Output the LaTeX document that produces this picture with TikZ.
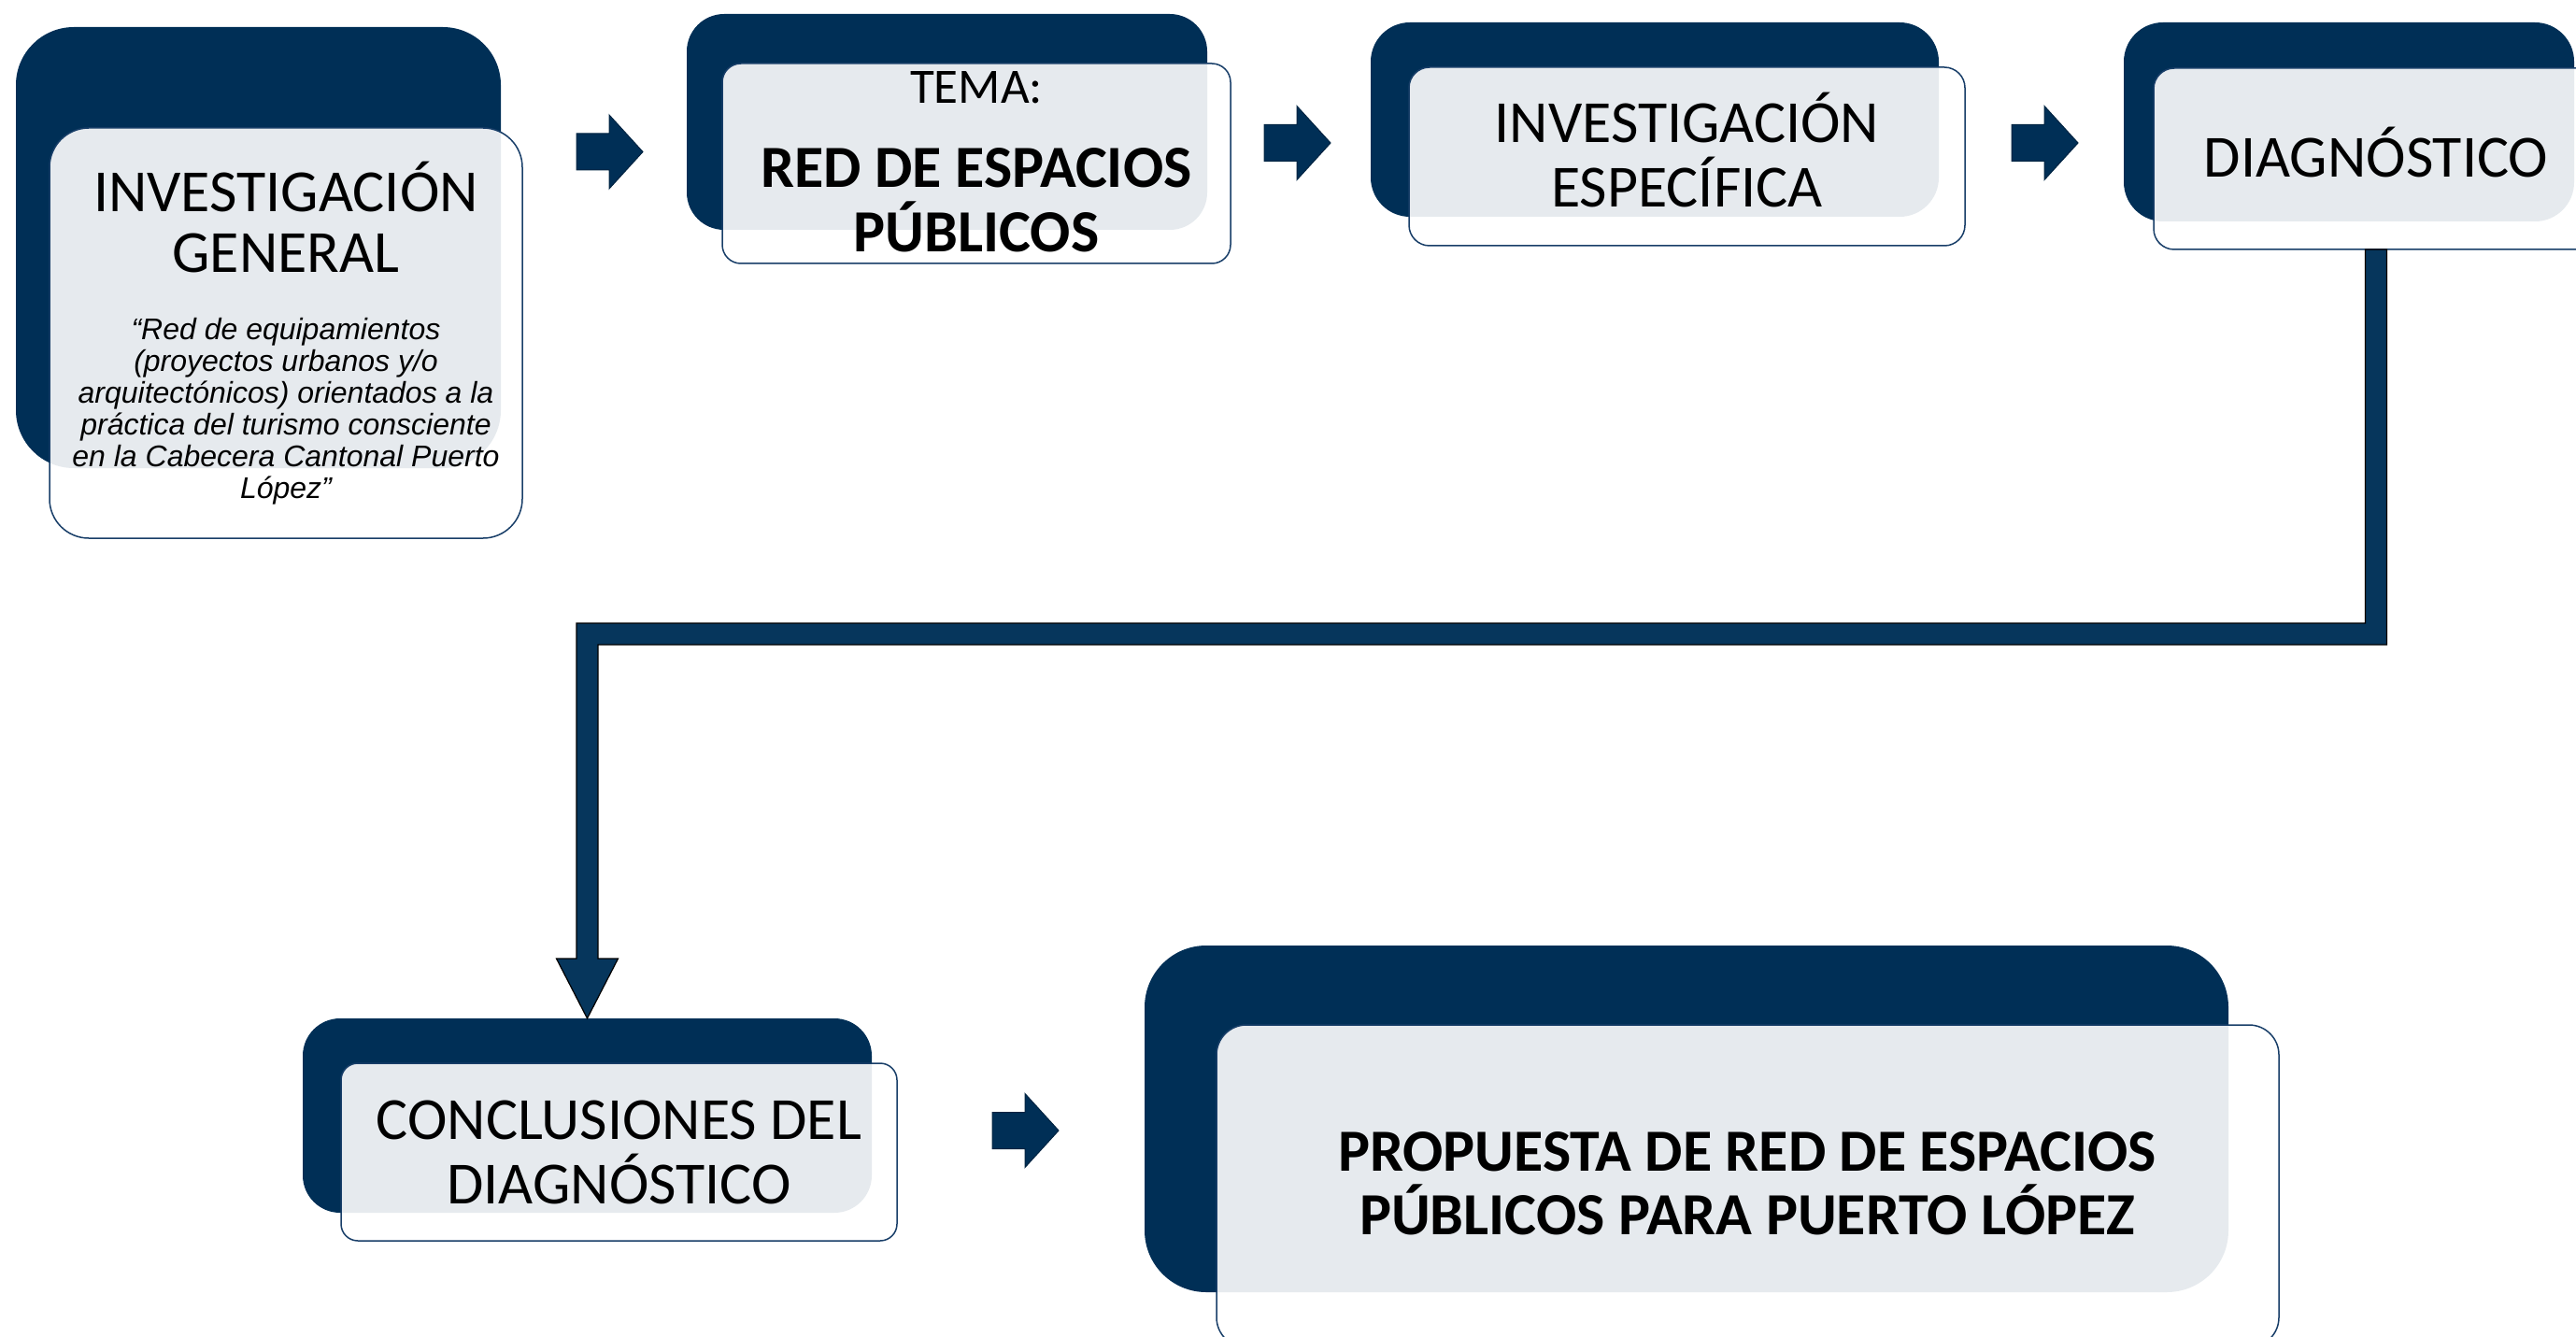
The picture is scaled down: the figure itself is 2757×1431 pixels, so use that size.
\documentclass[tikz,border=0pt]{standalone}
\usepackage{fontspec}
\setmainfont{Carlito}
\newfontfamily\arialfont{Liberation Sans}
\usetikzlibrary{calc}
\definecolor{navy}{RGB}{0,47,86}
\definecolor{navyedge}{RGB}{0,36,66}
\definecolor{navyline}{RGB}{24,62,104}
\definecolor{conn}{RGB}{6,54,92}
\tikzset{
  darkbox/.style={fill=navy, draw=none, inner sep=0pt, outer sep=0pt},
  lightbox/.style={fill=white, fill opacity=0.9, draw=navyline, draw opacity=1, line width=1.5pt, inner sep=0pt, outer sep=0pt},
  bigtxt/.style={anchor=base, inner sep=0pt, font=\fontsize{64}{70}\selectfont},
  bigbold/.style={anchor=base, inner sep=0pt, font=\fontsize{64}{70}\selectfont\bfseries},
  smalltxt/.style={anchor=base, inner sep=0pt, font=\fontsize{53}{60}\selectfont},
  quotetxt/.style={anchor=base, inner sep=0pt, font=\arialfont\itshape\fontsize{32}{34}\selectfont},
  blockarr/.pic={\filldraw[fill=navy, draw=navyedge, line width=1pt] (0,-19.5) -- (35,-19.5) -- (35,-39.5) -- (71,0) -- (35,39.5) -- (35,19.5) -- (0,19.5) -- cycle;}
}
\begin{document}
\begin{tikzpicture}[x=1pt,y=-1pt]
\useasboundingbox (0,0) rectangle (2757,1431);
\clip (0,0) rectangle (2757,1431);
% dark boxes
\node[darkbox, minimum width=519pt, minimum height=472pt, rounded corners=62pt] (d1) at (276.5,265) {};
\node[darkbox, minimum width=557pt, minimum height=231pt, rounded corners=40pt] (d2) at (1013.5,130.5) {};
\node[darkbox, minimum width=608pt, minimum height=208pt, rounded corners=42pt] (d3) at (1771,128) {};
\node[darkbox, minimum width=482pt, minimum height=213pt, rounded corners=42pt] (d4) at (2514,130.5) {};
\node[darkbox, minimum width=609pt, minimum height=208pt, rounded corners=40pt] (d5) at (628.5,1194) {};
\node[darkbox, minimum width=1160pt, minimum height=371pt, rounded corners=66pt] (d6) at (1805,1197.5) {};
% light boxes
\node[lightbox, minimum width=506pt, minimum height=439pt, rounded corners=42pt] (l1) at (306,356.5) {};
\node[lightbox, minimum width=544pt, minimum height=214pt, rounded corners=20pt] (l2) at (1045,175) {};
\node[lightbox, minimum width=595pt, minimum height=191pt, rounded corners=22pt] (l3) at (1805.5,167.5) {};
\node[lightbox, minimum width=476pt, minimum height=194pt, rounded corners=22pt] (l4) at (2543,170) {};
\node[lightbox, minimum width=595pt, minimum height=190pt, rounded corners=18pt] (l5) at (662.5,1233) {};
\node[lightbox, minimum width=1137pt, minimum height=345pt, rounded corners=32pt] (l6) at (1870.5,1269.5) {};
% texts box 1
\node[bigtxt] (t1a) at (306,227) {INVESTIGACIÓN};
\node[bigtxt] (t1b) at (306,292) {GENERAL};
\node[quotetxt] (q1) at (306,363) {“Red de equipamientos};
\node[quotetxt] (q2) at (306,397) {(proyectos urbanos y/o};
\node[quotetxt] (q3) at (306,431) {arquitectónicos) orientados a la};
\node[quotetxt] (q4) at (306,465) {práctica del turismo consciente};
\node[quotetxt] (q5) at (306,499) {en la Cabecera Cantonal Puerto};
\node[quotetxt] (q6) at (306,533) {López”};
% box 2
\node[smalltxt] (t2a) at (1045,111) {TEMA:};
\node[bigbold] (t2b) at (1045,201) {RED DE ESPACIOS};
\node[bigbold] (t2c) at (1045,270) {PÚBLICOS};
% box 3
\node[bigtxt] (t3a) at (1805.5,153) {INVESTIGACIÓN};
\node[bigtxt] (t3b) at (1805.5,222) {ESPECÍFICA};
% box 4
\node[bigtxt] (t4a) at (2543,190) {DIAGNÓSTICO};
% box 5
\node[bigtxt] (t5a) at (662.5,1219) {CONCLUSIONES DEL};
\node[bigtxt] (t5b) at (662.5,1288) {DIAGNÓSTICO};
% box 6
\node[bigbold] (t6a) at (1870,1253) {PROPUESTA DE RED DE ESPACIOS};
\node[bigbold] (t6b) at (1870,1321) {PÚBLICOS PARA PUERTO LÓPEZ};
% block arrows
\pic at (617,162.5) {blockarr};
\pic at (1353,153) {blockarr};
\pic at (2153,153) {blockarr};
\pic at (1062,1210) {blockarr};
% elbow connector
\coordinate (k1) at (l4.south |- 0,678.5);
\coordinate (k2) at (d5.north |- 0,678.5);
\filldraw[fill=conn, draw=black, line width=1.2pt, line join=miter]
  ($(l4.south)+(-11.5,0)$) -- ($(l4.south)+(11.5,0)$) -- ($(k1)+(11.5,11.5)$)
  -- ($(k2)+(11.5,11.5)$) -- ($(d5.north)+(11.5,-64)$) -- ($(d5.north)+(33,-64)$)
  -- (d5.north) -- ($(d5.north)+(-33,-64)$) -- ($(d5.north)+(-11.5,-64)$)
  -- ($(k2)+(-11.5,-11.5)$) -- ($(k1)+(-11.5,-11.5)$) -- cycle;
\end{tikzpicture}
\end{document}
